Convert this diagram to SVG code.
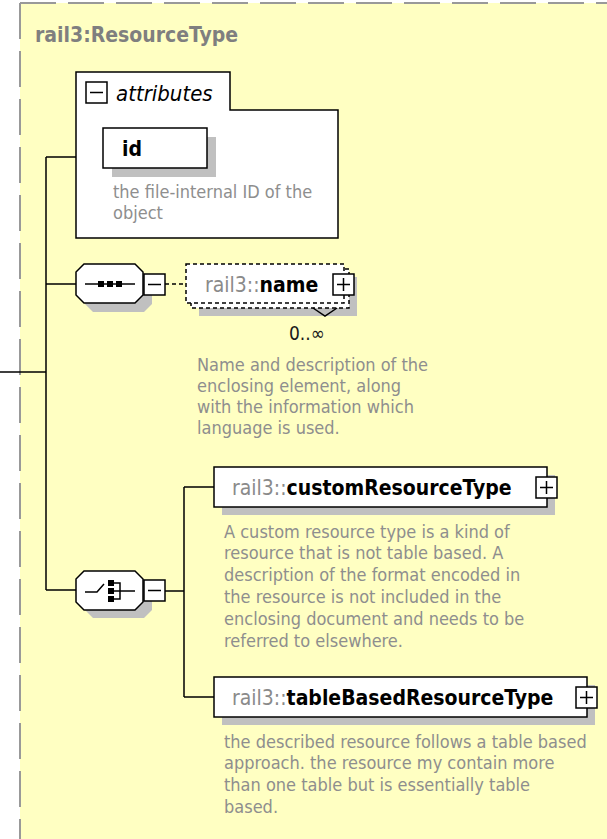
<svg xmlns="http://www.w3.org/2000/svg" width="607" height="839" viewBox="0 0 607 839">
<style>
text{font-family:"DejaVu Sans Condensed","DejaVu Sans",sans-serif;}
.title{font-size:21px;font-weight:bold;fill:#7f7f7f;}
.pre{font-size:21px;fill:#8a8a8a;}
.nm{font-size:21px;font-weight:bold;fill:#000;}
.desc{font-size:18px;fill:#8e8e8e;}
.box{fill:#fff;stroke:#000;stroke-width:1.5;}
.dbox{fill:#fff;stroke:#000;stroke-width:1.5;stroke-dasharray:4 3;}
.sh{fill:#c0c0c0;}
.ln{fill:none;stroke:#000;stroke-width:1.5;}
.sq{fill:#000;}
</style>
<defs>
<polygon id="oct" points="84,0 135,0 143,8 143,31 135,39 84,39 76,31 76,8"/>
<g id="minus"><rect x="0" y="0" width="21" height="21" class="box"/><path d="M4,10.5H17" class="ln"/></g>
<g id="plus"><rect x="0" y="0" width="21" height="21" class="box"/><path d="M4,10.5H17M10.5,4V17" class="ln"/></g>
</defs>
<rect x="0" y="0" width="607" height="839" fill="#fff"/>
<rect x="20" y="3" width="587" height="836" fill="#ffffc2"/>
<path d="M20,3H607M20,3V839" fill="none" stroke="#999" stroke-width="2" stroke-dasharray="36 12"/>
<text x="35" y="42" class="title">rail3:ResourceType</text>

<g id="connectors">
<path class="ln" d="M0,372H46M46,157V590M46,157H76M46,284H76M46,590H76"/>
<path class="ln" d="M165,284H186" stroke-dasharray="4 3"/>
<path class="ln" d="M165,591H184M184,487V697M184,487H214M184,697H214"/>
</g>

<g id="attributes">
<path class="box" d="M76,72H230V110H338V238H76Z"/>
<use href="#minus" x="86" y="82"/>
<text x="116" y="101" font-size="22" font-style="italic" fill="#000">attributes</text>
<rect x="112" y="137" width="104" height="40" class="sh"/>
<rect x="103" y="128" width="104" height="40" class="box"/>
<text x="122" y="156" class="nm">id</text>
<text x="113" y="198" class="desc">the file-internal ID of the</text>
<text x="113" y="219" class="desc">object</text>
</g>

<g id="sequence">
<use href="#oct" x="9" y="273" class="sh"/>
<use href="#oct" x="0" y="264" class="box"/>
<path class="ln" d="M85,284H135"/>
<rect x="98" y="281" width="6" height="6" class="sq"/>
<rect x="107" y="281" width="6" height="6" class="sq"/>
<rect x="116" y="281" width="6" height="6" class="sq"/>
<use href="#minus" x="144" y="274"/>
</g>

<g id="name">
<rect x="199" y="277" width="158" height="39" class="sh"/>
<rect x="191" y="269" width="158" height="39" class="dbox"/>
<rect x="186" y="264" width="158" height="39" class="dbox"/>
<path class="ln" d="M313,308L325,316L337,308" stroke-width="1"/>
<text x="205" y="292"><tspan class="pre">rail3::</tspan><tspan class="nm">name</tspan></text>
<use href="#plus" x="333" y="274"/>
<text x="289" y="340" font-size="19" fill="#1a1a1a">0..∞</text>
<text x="197" y="371" class="desc">Name and description of the</text>
<text x="197" y="392" class="desc">enclosing element, along</text>
<text x="197" y="413" class="desc">with the information which</text>
<text x="197" y="434" class="desc">language is used.</text>
</g>

<g id="choice">
<use href="#oct" x="9" y="579" class="sh"/>
<use href="#oct" x="0" y="571" class="box"/>
<path class="ln" d="M85,592H97L104,584M114,583H120V599H114M114,591H135"/>
<rect x="108" y="580" width="6" height="6" class="sq"/>
<rect x="108" y="588" width="6" height="6" class="sq"/>
<rect x="108" y="596" width="6" height="6" class="sq"/>
<use href="#minus" x="144" y="580"/>
</g>

<g id="customResourceType">
<rect x="222" y="475" width="333" height="40" class="sh"/>
<rect x="214" y="467" width="333" height="40" class="box"/>
<text x="232" y="495"><tspan class="pre">rail3::</tspan><tspan class="nm">customResourceType</tspan></text>
<use href="#plus" x="536" y="477"/>
<text x="224" y="538" class="desc">A custom resource type is a kind of</text>
<text x="224" y="559" class="desc">resource that is not table based. A</text>
<text x="224" y="581" class="desc">description of the format encoded in</text>
<text x="224" y="603" class="desc">the resource is not included in the</text>
<text x="224" y="625" class="desc">enclosing document and needs to be</text>
<text x="224" y="647" class="desc">referred to elsewhere.</text>
</g>

<g id="tableBasedResourceType">
<rect x="222" y="685" width="373" height="40" class="sh"/>
<rect x="214" y="677" width="373" height="40" class="box"/>
<text x="232" y="705"><tspan class="pre">rail3::</tspan><tspan class="nm">tableBasedResourceType</tspan></text>
<use href="#plus" x="576" y="687"/>
<text x="224" y="748" class="desc">the described resource follows a table based</text>
<text x="224" y="769" class="desc">approach. the resource my contain more</text>
<text x="224" y="791" class="desc">than one table but is essentially table</text>
<text x="224" y="813" class="desc">based.</text>
</g>
</svg>
